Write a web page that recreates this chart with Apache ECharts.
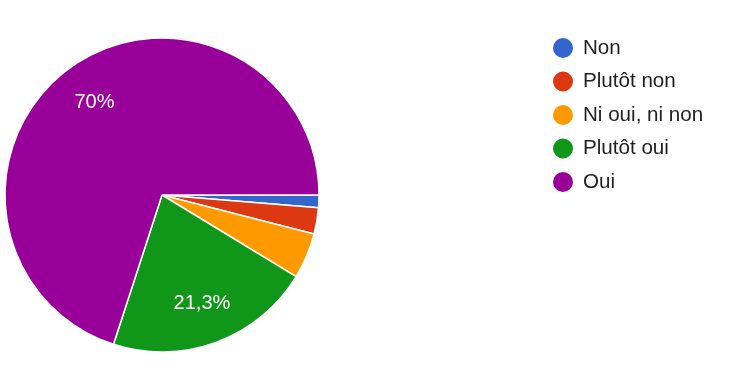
<!DOCTYPE html>
<html><head><meta charset="utf-8">
<script src="https://cdn.jsdelivr.net/npm/echarts@6/dist/echarts.min.js"></script>
<style>html,body{margin:0;padding:0;background:#fff}#c{width:732px;height:372px}</style>
</head><body><div id="c"></div>
<script>
const categories = ["Non", "Plutôt non", "Ni oui, ni non", "Plutôt oui", "Oui"];
const values = [1.3, 2.7, 4.7, 21.3, 70];
const labelsShown = ["", "", "", "21,3%", "70%"];
const colors = ["#3366cc", "#dc3912", "#ff9900", "#109618", "#990099"];

const data = categories.map((n, i) => ({ name: n, value: values[i], itemStyle: { color: colors[i] } }));
const labelData = categories.map((n, i) => ({ name: n, value: values[i], label: { show: labelsShown[i] !== "" , formatter: labelsShown[i] } }));

const chart = echarts.init(document.getElementById('c'), null, { renderer: 'canvas' });
chart.setOption({
  animation: false,
  legend: {
    orient: 'vertical', left: 546, top: 31,
    icon: 'circle', itemWidth: 22, itemHeight: 22, itemGap: 9.5,
    data: categories,
    textStyle: { fontFamily: 'Arial', fontSize: 20.6, lineHeight: 20, color: '#222', padding: [0, 0, 0, 4] }
  },
  series: [
    {
      type: 'pie', center: [162, 195], radius: [0, 157],
      startAngle: 0, clockwise: true,
      data: data,
      label: { show: false }, labelLine: { show: false },
      itemStyle: { borderColor: '#fff', borderWidth: 1.5 },
      emphasis: { disabled: true }
    },
    {
      type: 'pie', center: [162, 195.5], radius: [0, 224],
      startAngle: 0, clockwise: true, silent: true,
      data: labelData,
      itemStyle: { color: 'rgba(0,0,0,0)' },
      label: { position: 'inside', color: '#fff', fontSize: 20, fontFamily: 'Arial' },
      labelLine: { show: false },
      emphasis: { disabled: true }
    }
  ]
});
</script></body></html>
